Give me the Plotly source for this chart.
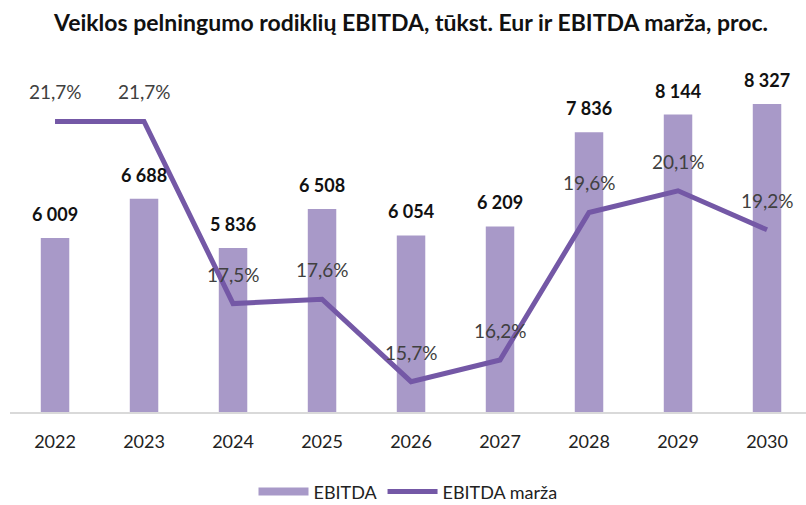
import plotly.graph_objects as go

years = ["2022", "2023", "2024", "2025", "2026", "2027", "2028", "2029", "2030"]
ebitda = [6009, 6688, 5836, 6508, 6054, 6209, 7836, 8144, 8327]
marza = [21.7, 21.7, 17.5, 17.6, 15.7, 16.2, 19.6, 20.1, 19.2]

bar_color = "#A899C8"
line_color = "#7458A6"
font_family = "Lato, Open Sans, sans-serif"


def fmt_thousands(v):
    return f"{v:,}".replace(",", " ")


def fmt_pct(v):
    return f"{v:.1f}%".replace(".", ",")


fig = go.Figure()

fig.add_trace(go.Bar(
    x=years, y=ebitda, name="EBITDA", showlegend=False,
    marker=dict(color=bar_color, line=dict(width=0)),
    width=0.32,
))
# legend swatch for the bars: a wide flat band
fig.add_trace(go.Scatter(
    x=[None], y=[None], name="EBITDA", mode="lines",
    line=dict(color=bar_color, width=8),
))

fig.add_trace(go.Scatter(
    x=years, y=marza, name="EBITDA marža", yaxis="y2",
    mode="lines", line=dict(color=line_color, width=5),
))

# value labels; x given as category index so numeric-looking years are not read as numbers
annotations = []
for i, v in enumerate(ebitda):
    annotations.append(dict(
        x=i, y=v, xref="x", yref="y", text=f"<b>{fmt_thousands(v)}</b>",
        showarrow=False, yanchor="bottom", yshift=11,
        font=dict(family=font_family, size=18, color="#111111"),
    ))
for i, v in enumerate(marza):
    annotations.append(dict(
        x=i, y=v, xref="x", yref="y2", text=fmt_pct(v),
        showarrow=False, yanchor="bottom", yshift=16,
        font=dict(family=font_family, size=19, color="#404040"),
    ))

fig.update_layout(
    width=806, height=505,
    margin=dict(l=10, r=0, t=65, b=93, autoexpand=False),
    paper_bgcolor="white", plot_bgcolor="white",
    title=dict(
        text="<b>Veiklos pelningumo rodiklių EBITDA, tūkst. Eur ir EBITDA marža, proc.</b>",
        x=0.51, xanchor="center", y=0.955, yanchor="middle",
        font=dict(family=font_family, size=23, color="#111111"),
    ),
    xaxis=dict(
        type="category", range=[-0.506, 8.438], automargin=False,
        showline=True, linecolor="#D9D9D9", linewidth=2,
        showgrid=False, ticks="", ticklabelstandoff=12,
        tickfont=dict(family=font_family, size=18, color="#222222"),
    ),
    yaxis=dict(range=[3000, 9000], visible=False, showgrid=False),
    yaxis2=dict(range=[15, 23], overlaying="y", side="right",
                visible=False, showgrid=False),
    showlegend=True,
    legend=dict(
        orientation="h", x=0.5, xanchor="center", y=-0.23, yanchor="middle",
        font=dict(family=font_family, size=18, color="#222222"),
        itemwidth=50, traceorder="normal",
    ),
    bargap=0.68,
    annotations=annotations,
)

fig.write_html("out.html")
